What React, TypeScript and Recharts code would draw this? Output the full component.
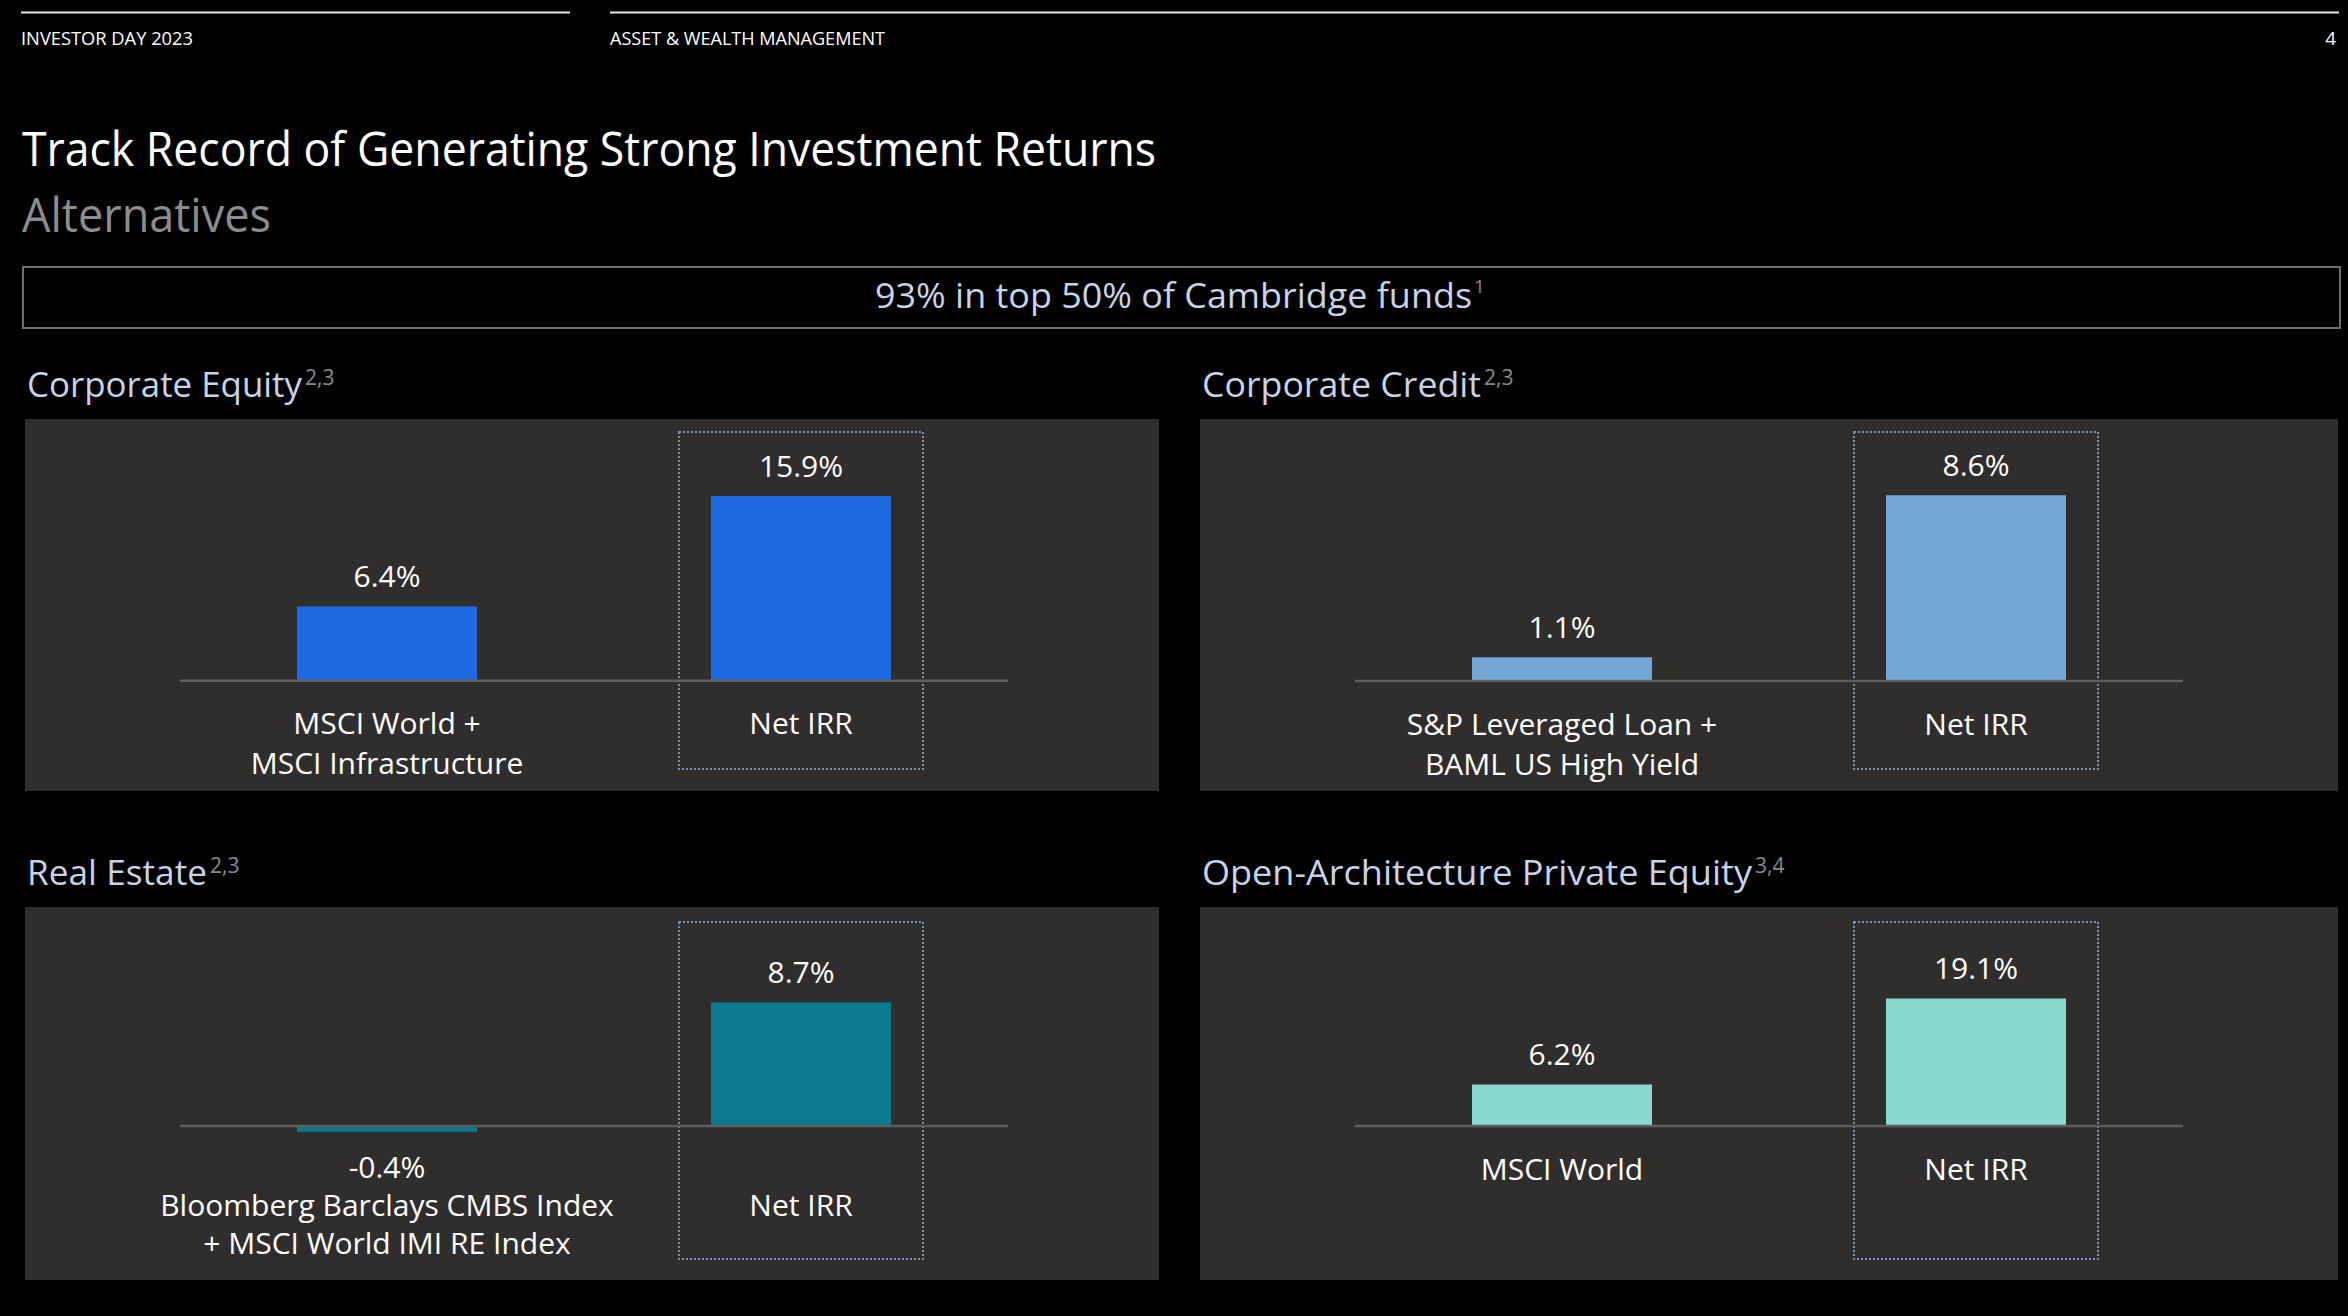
import React from 'react'
import { BarChart, Bar, XAxis, YAxis, ReferenceLine, ReferenceArea, LabelList } from 'recharts'

// ─── Data ────────────────────────────────────────────────────────────────────

const equityCategories = ['MSCI World +\nMSCI Infrastructure', 'Net IRR']
const equityValues = [6.4, 15.9]

const creditCategories = ['S&P Leveraged Loan +\nBAML US High Yield', 'Net IRR']
const creditValues = [1.1, 8.6]

const realEstateCategories = ['Bloomberg Barclays CMBS Index\n+ MSCI World IMI RE Index', 'Net IRR']
const realEstateValues = [-0.4, 8.7]

const privateEquityCategories = ['MSCI World', 'Net IRR']
const privateEquityValues = [6.2, 19.1]

// ─── Styling ─────────────────────────────────────────────────────────────────

const FONT = '"Open Sans", "Noto Sans", sans-serif'
const PANEL_BG = '#302e2d'
const TITLE_BLUE = '#c6d3e8'
const SUP_GREY = '#8a8a8a'
const PLOT_W = 828

interface PanelSpec {
  title: string
  sup: string
  titleLen: number
  left: number
  top: number
  width: number
  height: number
  plotTop: number
  plotBottom: number
  domain: [number, number]
  color: string
  categories: string[]
  values: number[]
  catOffset: number
  lineGap: number
}

const panels: PanelSpec[] = [
  {
    title: 'Corporate Equity', sup: '2,3', titleLen: 275,
    left: 25, top: 419, width: 1134, height: 372, plotTop: 13, plotBottom: 350,
    domain: [-7.6, 21.42], color: '#1e6ae0',
    categories: equityCategories, values: equityValues, catOffset: 42, lineGap: 40,
  },
  {
    title: 'Corporate Credit', sup: '2,3', titleLen: 279,
    left: 1200, top: 419, width: 1138, height: 372, plotTop: 13, plotBottom: 350,
    domain: [-4.07, 11.53], color: '#74a7d6',
    categories: creditCategories, values: creditValues, catOffset: 42, lineGap: 40,
  },
  {
    title: 'Real Estate', sup: '2,3', titleLen: 180,
    left: 25, top: 907, width: 1134, height: 373, plotTop: 15, plotBottom: 352,
    domain: [-9.37, 14.37], color: '#0b7a8f',
    categories: realEstateCategories, values: realEstateValues, catOffset: 79, lineGap: 38,
  },
  {
    title: 'Open-Architecture Private Equity', sup: '3,4', titleLen: 550,
    left: 1200, top: 907, width: 1138, height: 373, plotTop: 15, plotBottom: 352,
    domain: [-19.91, 30.54], color: '#88d9d2',
    categories: privateEquityCategories, values: privateEquityValues, catOffset: 42, lineGap: 40,
  },
]

// ─── Label renderers ─────────────────────────────────────────────────────────

function boxOf(props: any) {
  const vb = props.viewBox && props.viewBox.width !== undefined ? props.viewBox : props
  const y0 = Number(vb.y)
  const y1 = Number(vb.y) + Number(vb.height)
  return { cx: Number(vb.x) + Number(vb.width) / 2, top: Math.min(y0, y1), bottom: Math.max(y0, y1) }
}

function ValueLabel(props: any) {
  const v = Number(props.value)
  const { cx, top, bottom } = boxOf(props)
  const cy = v >= 0 ? top - 31 : bottom + 35
  return (
    <text x={cx} y={cy} textAnchor="middle" dominantBaseline="central" fill="#ffffff" fontSize={30} fontFamily={FONT}>
      {`${v.toFixed(1)}%`}
    </text>
  )
}

function makeCategoryLabel(p: PanelSpec) {
  return (props: any) => {
    const v = p.values[props.index]
    const { cx, top, bottom } = boxOf(props)
    const base = v >= 0 ? bottom : top
    const lines = String(props.value).split('\n')
    return (
      <text x={cx} textAnchor="middle" fill="#ffffff" fontSize={30} fontFamily={FONT}>
        {lines.map((ln, i) => (
          <tspan key={i} x={cx} y={base + p.catOffset + i * p.lineGap} dominantBaseline="central">{ln}</tspan>
        ))}
      </text>
    )
  }
}

function NetIrrBox(props: any) {
  const cx = props.x + props.width / 2
  return (
    <rect x={cx - 122} y={props.y} width={244} height={props.height}
      fill="none" stroke="#7590b5" strokeWidth={2} strokeDasharray="2 2" />
  )
}

// ─── Panel chart ─────────────────────────────────────────────────────────────

function PanelChart({ p }: { p: PanelSpec }) {
  const data = p.categories.map((name, i) => ({ name, value: p.values[i] }))
  return (
    <div style={{ position: 'absolute', left: p.left, top: p.top }}>
      <BarChart
        width={p.width}
        height={p.height}
        data={data}
        margin={{ top: p.plotTop, bottom: p.height - p.plotBottom, left: 155, right: p.width - 155 - PLOT_W }}
      >
        <XAxis dataKey="name" hide />
        <YAxis hide type="number" domain={p.domain} allowDataOverflow />
        <ReferenceArea x1="Net IRR" x2="Net IRR" ifOverflow="visible" shape={NetIrrBox} />
        <ReferenceLine y={0} stroke="#5e5e5e" strokeWidth={2.5} />
        <Bar dataKey="value" fill={p.color} barSize={180} isAnimationActive={false}>
          <LabelList dataKey="value" content={ValueLabel} />
          <LabelList dataKey="name" content={makeCategoryLabel(p)} />
        </Bar>
      </BarChart>
    </div>
  )
}

// ─── Page ────────────────────────────────────────────────────────────────────

export default function App() {
  return (
    <div style={{ position: 'absolute', left: 0, top: 0, width: 2348, height: 1316, background: '#000', overflow: 'hidden' }}>
      <svg width={2348} height={1316} style={{ position: 'absolute', left: 0, top: 0 }} fontFamily={FONT}>
        <line x1={21} x2={570} y1={12.5} y2={12.5} stroke="#e6e6e6" strokeWidth={2} />
        <line x1={610} x2={2339} y1={12.5} y2={12.5} stroke="#e6e6e6" strokeWidth={2} />
        <text x={21} y={45} fontSize={19} fill="#fff" textLength={172} lengthAdjust="spacingAndGlyphs">INVESTOR DAY 2023</text>
        <text x={610} y={45} fontSize={19} fill="#fff" textLength={275} lengthAdjust="spacingAndGlyphs">ASSET &amp; WEALTH MANAGEMENT</text>
        <text x={2336} y={45} fontSize={19} fill="#fff" textAnchor="end">4</text>

        <text x={22} y={166} fontSize={48} fill="#fff" textLength={1134} lengthAdjust="spacingAndGlyphs">
          Track Record of Generating Strong Investment Returns
        </text>
        <text x={22} y={232} fontSize={48} fill="#8c8c8c" textLength={249} lengthAdjust="spacingAndGlyphs">Alternatives</text>

        <rect x={23} y={267} width={2317} height={61} fill="none" stroke="#6e6e6e" strokeWidth={2} />
        <text x={875} y={308} fontSize={34} fill={TITLE_BLUE} textLength={597} lengthAdjust="spacingAndGlyphs">
          93% in top 50% of Cambridge funds
        </text>
        <text x={1474} y={293} fontSize={19} fill={SUP_GREY}>1</text>

        {panels.map((p, i) => {
          const base = p.top - 22
          return (
            <g key={i}>
              <rect x={p.left} y={p.top} width={p.width} height={p.height} fill={PANEL_BG} />
              <text x={p.left + 2} y={base} fontSize={34} fill={TITLE_BLUE} textLength={p.titleLen} lengthAdjust="spacingAndGlyphs">
                {p.title}
              </text>
              <text x={p.left + 2 + p.titleLen + 3} y={base - 12} fontSize={21} fill={SUP_GREY}>{p.sup}</text>
            </g>
          )
        })}
      </svg>
      {panels.map((p, i) => <PanelChart key={i} p={p} />)}
    </div>
  )
}
